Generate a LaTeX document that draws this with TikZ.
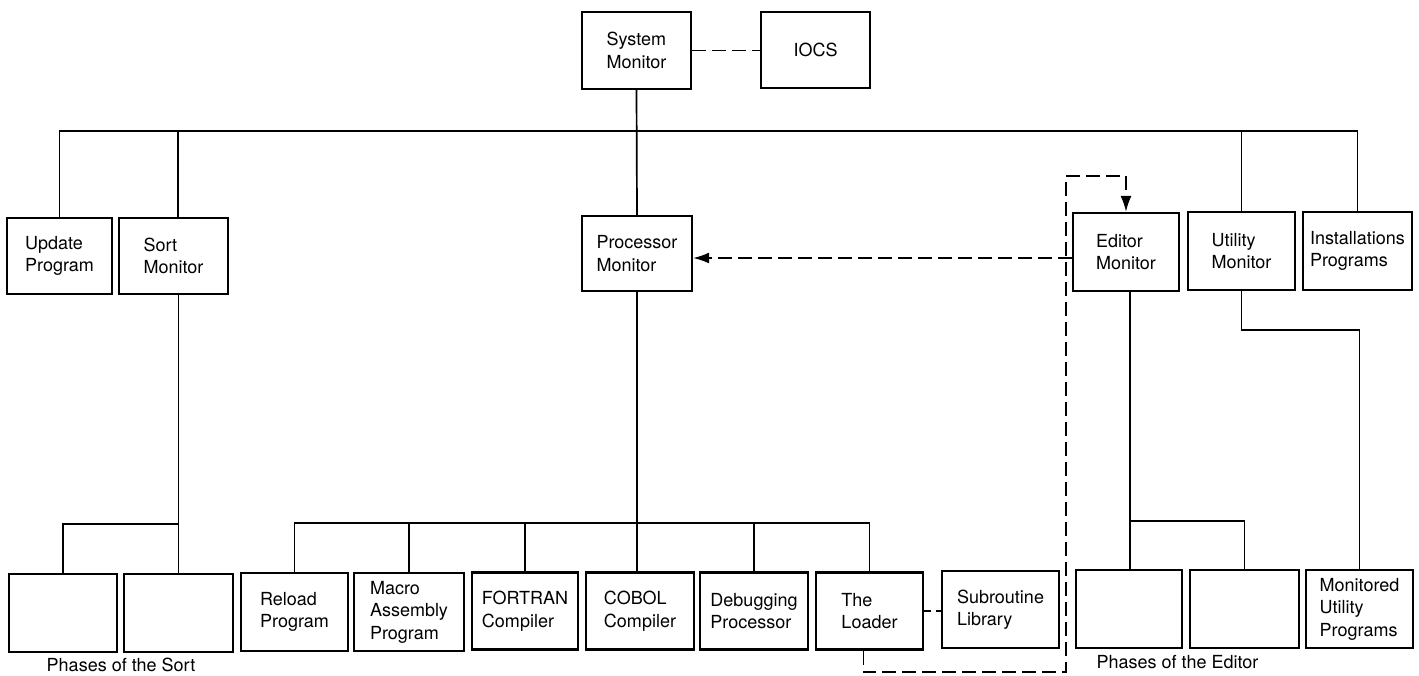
\documentclass[tikz,border=0pt]{standalone}
\usepackage{fontspec}
\setmainfont{TeX Gyre Heros}
\usetikzlibrary{arrows.meta}
\begin{document}
\begin{tikzpicture}[x=1pt,y=-1pt,
  bx/.style={draw,line width=2.3pt,inner sep=0pt,minimum width=107pt,minimum height=77pt,
    align=left,font=\fontsize{18}{22.5}\selectfont},
  conn/.style={line width=1.7pt},
  dconn/.style={line width=1.7pt,dash pattern=on 14pt off 6pt},
  sdconn/.style={line width=1.7pt,dash pattern=on 7pt off 5pt},
  arr/.style={-{Latex[length=16pt,width=11pt]}},
  lbl/.style={font=\fontsize{18}{22}\selectfont,inner sep=0pt}]
\useasboundingbox (0,0) rectangle (1419,675);
% top
\node[bx,minimum width=109pt] (sys) at (636.5,50.5) {System\\Monitor};
\node[bx,minimum width=109pt,minimum height=76pt] (iocs) at (815.5,50) {IOCS};
% second row
\node[bx,minimum width=105pt,minimum height=76pt] (update) at (59.5,256) {Update\\Program};
\node[bx,minimum width=109pt,minimum height=76pt] (sort) at (173.5,256) {Sort\\Monitor};
\node[bx,minimum width=110pt,minimum height=75pt] (proc) at (637,253.5) {Processor\\Monitor};
\node[bx,minimum width=106pt,minimum height=78pt] (editor) at (1126,252) {Editor\\Monitor};
\node[bx,minimum width=107pt,minimum height=78pt] (utility) at (1241.5,251) {Utility\\Monitor};
\node[bx,minimum width=109pt,minimum height=78pt] (install) at (1357.5,251) {Installations\\Programs};
% bottom row
\node[bx,minimum width=108pt,minimum height=78pt] (sp1) at (63,613) {};
\node[bx,minimum width=109pt,minimum height=78pt] (sp2) at (178.5,613) {};
\node[bx,minimum width=107pt,minimum height=78pt] (reload) at (294.5,612) {Reload\\Program};
\node[bx,minimum width=110pt,minimum height=78pt] (macro) at (409,612) {Macro\\Assembly\\Program};
\node[bx,minimum width=106pt,minimum height=77pt] (fortran) at (525,611) {FORTRAN\\Compiler};
\node[bx,minimum width=108pt,minimum height=77pt] (cobol) at (640,611) {COBOL\\Compiler};
\node[bx,minimum width=108pt,minimum height=77pt] (debug) at (754,611) {Debugging\\Processor};
\node[bx,minimum width=107pt,minimum height=77pt] (loader) at (869.5,611) {The\\Loader};
\node[bx,minimum width=117pt,minimum height=77pt] (subr) at (1000.5,609.5) {Subroutine\\Library};
\node[bx,minimum width=106pt,minimum height=78pt] (ep1) at (1129,609) {};
\node[bx,minimum width=109pt,minimum height=78pt] (ep2) at (1244.5,609) {};
\node[bx,minimum width=107pt,minimum height=78pt] (mup) at (1359.5,609) {Monitored\\Utility\\Programs};
% labels
\node[lbl] (lsort) at (121,665) {Phases of the Sort};
\node[lbl] (ledit) at (1177.5,662) {Phases of the Editor};
% helper coordinates
\coordinate (bus) at (0,131);
\coordinate (sb) at (0,524);
\coordinate (pb) at (0,523);
\coordinate (eb) at (0,521);
\coordinate (ub) at (0,330);
\coordinate (ay) at (0,258);
\coordinate (lp1) at (1066,672);
\coordinate (lp2) at (1066,176);
% main bus
\draw[dconn] (sys.east) -- (iocs.west |- sys.east);
\draw[conn] (sys.south) -- (proc.north);
\draw[conn] (update.north) |- (install.north |- bus) -- (install.north);
\draw[conn] ([xshift=4.5pt]sort.north) -- ([xshift=4.5pt]sort.north |- bus);
\draw[conn] (utility.north) -- (utility.north |- bus);
% sort
\draw[conn] (sp2.north |- sort.south) -- (sp2.north);
\draw[conn] (sp1.north) |- (sp2.north |- sb);
% processor
\draw[conn] (proc.south) -- (proc.south |- cobol.north);
\draw[conn] (reload.north) |- (loader.north |- pb) -- (loader.north);
\draw[conn] (macro.north) -- (macro.north |- pb);
\draw[conn] (fortran.north) -- (fortran.north |- pb);
\draw[conn] (debug.north) -- (debug.north |- pb);
\draw[sdconn] (loader.east) -- (loader.east -| subr.west);
% editor
\draw[conn] ([xshift=4pt]editor.south) -- ([xshift=4pt]editor.south |- ep1.north);
\draw[conn] ([xshift=2pt]ep1.north |- eb) -| (ep2.north);
% utility
\draw[conn] (utility.south) |- (mup.north |- ub) -- (mup.north);
% dashed loops
\draw[dconn,arr] ([xshift=-6pt]loader.south) |- (lp1) -- (lp2) -| (editor.north);
\draw[dconn,arr] (editor.west |- ay) -- (proc.east |- ay);
\end{tikzpicture}
\end{document}
